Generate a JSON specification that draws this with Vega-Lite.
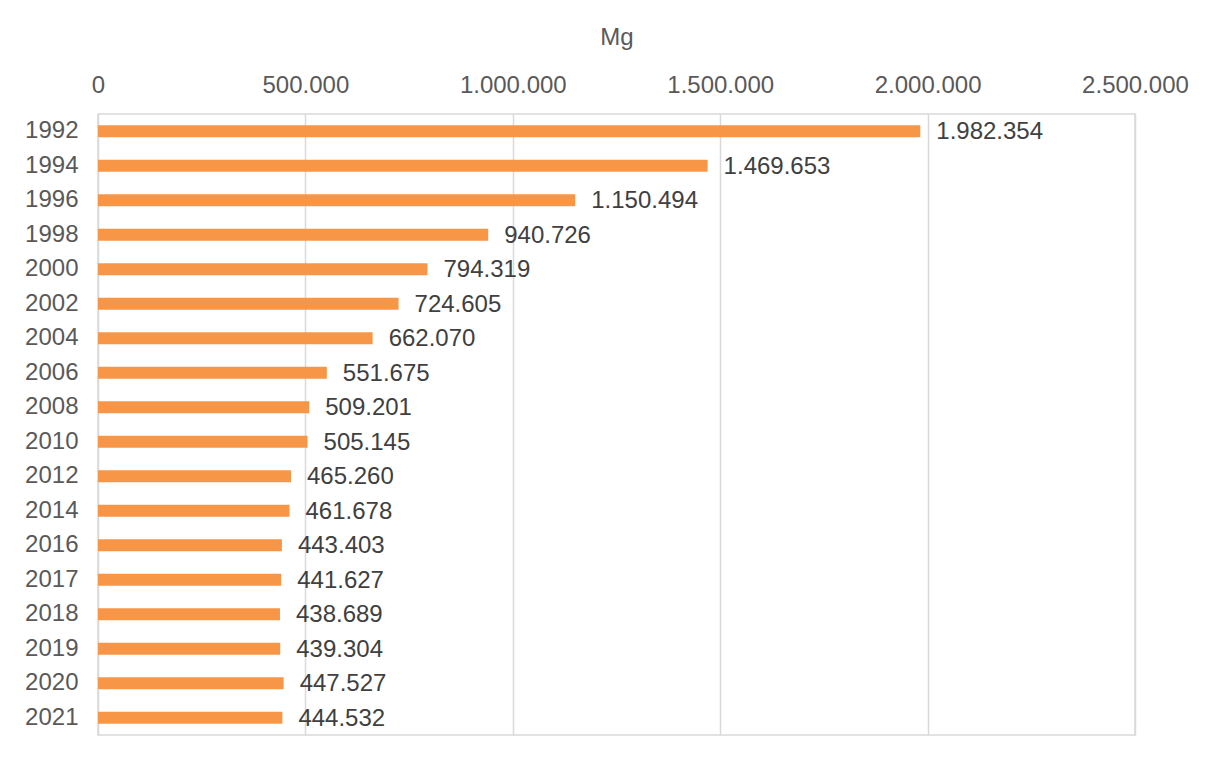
{
  "$schema": "https://vega.github.io/schema/vega-lite/v6.json",
  "width": 1037,
  "height": 621,
  "autosize": {"type": "none"},
  "padding": {"left": 98, "top": 114, "right": 78, "bottom": 25},
  "background": "white",
  "config": {
    "locale": {"number": {"decimal": ",", "thousands": ".", "grouping": [3], "currency": ["", " €"]}},
    "view": {"stroke": "#D9D9D9", "strokeWidth": 1.5},
    "font": "Liberation Sans"
  },
  "data": {"values": [
    {"year": "1992", "value": 1982354},
    {"year": "1994", "value": 1469653},
    {"year": "1996", "value": 1150494},
    {"year": "1998", "value": 940726},
    {"year": "2000", "value": 794319},
    {"year": "2002", "value": 724605},
    {"year": "2004", "value": 662070},
    {"year": "2006", "value": 551675},
    {"year": "2008", "value": 509201},
    {"year": "2010", "value": 505145},
    {"year": "2012", "value": 465260},
    {"year": "2014", "value": 461678},
    {"year": "2016", "value": 443403},
    {"year": "2017", "value": 441627},
    {"year": "2018", "value": 438689},
    {"year": "2019", "value": 439304},
    {"year": "2020", "value": 447527},
    {"year": "2021", "value": 444532}
  ]},
  "encoding": {
    "y": {
      "field": "year", "type": "nominal", "sort": null,
      "scale": {"paddingInner": 0.65, "paddingOuter": 0.325},
      "axis": {"title": null, "domain": false, "ticks": false, "labelPadding": 20, "labelFontSize": 24, "labelColor": "#595959", "labelFont": "Liberation Sans"}
    },
    "x": {
      "field": "value", "type": "quantitative",
      "scale": {"domain": [0, 2500000], "nice": false},
      "axis": {
        "orient": "top", "title": "Mg", "titleFontSize": 24, "titleFontWeight": "normal", "titleColor": "#595959", "titlePadding": 24, "titleFont": "Liberation Sans",
        "values": [0, 500000, 1000000, 1500000, 2000000, 2500000],
        "format": ",d", "labelFontSize": 24, "labelColor": "#595959", "labelPadding": 17,
        "domain": false, "ticks": false, "grid": true, "gridColor": "#D9D9D9", "gridWidth": 1.5,
        "labelFlush": false
      }
    }
  },
  "layer": [
    {"mark": {"type": "bar", "color": "#F79646"}},
    {
      "mark": {"type": "text", "align": "left", "baseline": "middle", "dx": 16, "dy": 1, "fontSize": 24, "color": "#404040"},
      "encoding": {"text": {"field": "value", "type": "quantitative", "format": ",d"}}
    }
  ]
}
